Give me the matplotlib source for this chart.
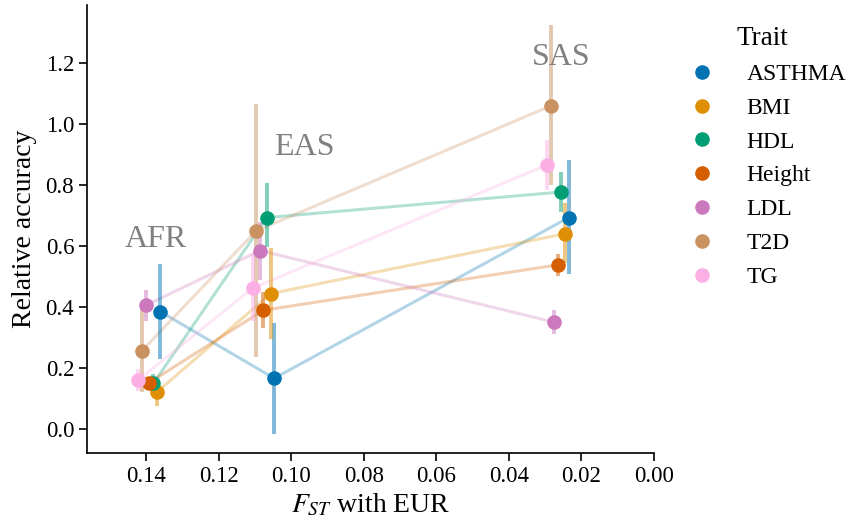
import numpy as np
import matplotlib
matplotlib.use("Agg")
from matplotlib import pyplot as plt
from matplotlib.lines import Line2D

plt.rcParams['font.family'] = ['Liberation Serif', 'DejaVu Serif']
plt.rcParams['mathtext.fontset'] = 'stix'

traits = ['ASTHMA', 'BMI', 'HDL', 'Height', 'LDL', 'T2D', 'TG']
colors = ['#0173b2', '#de8f05', '#029e73', '#d55e00', '#cc78bc', '#ca9161', '#fbafe4']
pops = ['AFR', 'EAS', 'SAS']

# F_ST with EUR per trait (small dodge), order AFR, EAS, SAS
fst = {
    'ASTHMA': [0.1361, 0.1047, 0.0235],
    'BMI':    [0.1371, 0.1056, 0.0246],
    'HDL':    [0.1380, 0.1067, 0.0255],
    'Height': [0.1391, 0.1077, 0.0265],
    'LDL':    [0.1401, 0.1086, 0.0275],
    'T2D':    [0.1411, 0.1097, 0.0285],
    'TG':     [0.1421, 0.1106, 0.0296],
}
acc = {
    'ASTHMA': [0.385, 0.166, 0.693],
    'BMI':    [0.120, 0.444, 0.640],
    'HDL':    [0.149, 0.693, 0.777],
    'Height': [0.152, 0.389, 0.538],
    'LDL':    [0.405, 0.585, 0.350],
    'T2D':    [0.257, 0.649, 1.059],
    'TG':     [0.161, 0.462, 0.865],
}
lo = {
    'ASTHMA': [0.230, -0.017, 0.507],
    'BMI':    [0.075, 0.296, 0.543],
    'HDL':    [0.120, 0.597, 0.711],
    'Height': [0.130, 0.332, 0.503],
    'LDL':    [0.355, 0.487, 0.312],
    'T2D':    [0.120, 0.235, 0.799],
    'TG':     [0.125, 0.355, 0.783],
}
hi = {
    'ASTHMA': [0.540, 0.346, 0.882],
    'BMI':    [0.160, 0.592, 0.740],
    'HDL':    [0.180, 0.805, 0.843],
    'Height': [0.170, 0.448, 0.575],
    'LDL':    [0.454, 0.679, 0.391],
    'T2D':    [0.400, 1.066, 1.326],
    'TG':     [0.197, 0.575, 0.947],
}
label_x = [0.1372, 0.0963, 0.0255]
label_y = [0.597, 0.898, 1.193]

fig = plt.figure(figsize=(8.47, 5.23), dpi=100)
ax = fig.add_axes([0.1031, 0.1338, 0.669, 0.8566])

for t, c in zip(traits, colors):
    x = np.array(fst[t])
    y = np.array(acc[t])
    ax.plot(x, y, color=c, alpha=0.3, lw=2.2, zorder=1)
    ax.vlines(x, lo[t], hi[t], color=c, alpha=0.5, lw=2.8, zorder=2)
for t, c in zip(traits, colors):
    ax.plot(fst[t], acc[t], 'o', color=c, ms=10.5, mec='none', zorder=3)

for p, lx, ly in zip(pops, label_x, label_y):
    ax.text(lx, ly, p, color='gray', fontsize=23, ha='center', va='baseline')

ax.set_xlim(0.1562, 0.0)
ax.set_ylim(-0.079, 1.39)
ax.set_xticks(np.arange(0.14, -0.001, -0.02))
ax.set_yticks(np.arange(0.0, 1.21, 0.2))
ax.xaxis.set_major_formatter(matplotlib.ticker.FormatStrFormatter('%.2f'))
ax.yaxis.set_major_formatter(matplotlib.ticker.FormatStrFormatter('%.1f'))
ax.tick_params(labelsize=16.5, length=6, width=1.2)
for s in ['top', 'right']:
    ax.spines[s].set_visible(False)
for s in ['left', 'bottom']:
    ax.spines[s].set_linewidth(1.2)
ax.set_xlabel('$F_{ST}$ with EUR', fontsize=20, labelpad=3.5)
ax.set_ylabel('Relative accuracy', fontsize=20, labelpad=6)

handles = [Line2D([], [], ls='none', marker='o', color=c, ms=10.5, mec='none') for c in colors]
leg = ax.legend(handles, traits, title='Trait', loc='upper left', bbox_to_anchor=(1.005, 1.0),
                frameon=False, fontsize=17, title_fontsize=19.5, labelspacing=0.52,
                handletextpad=0.9)

fig.savefig('out.png', dpi=100)
